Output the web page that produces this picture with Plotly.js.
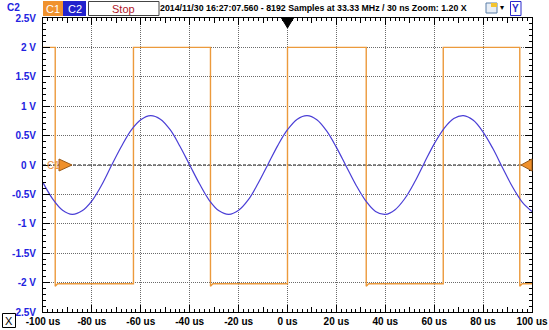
<!DOCTYPE html>
<html><head><meta charset="utf-8">
<script src="https://cdn.plot.ly/plotly-3.0.1.min.js"></script>
<style>html,body{margin:0;padding:0;background:#fff;}#g{width:549px;height:330px;}</style>
</head><body><div id="g"></div>
<script>
// Time axis (us) and values
const sineT = [-100,-96,-92,-88,-84,-80,-76,-72,-68,-64,-60,-56,-52,-48,-44,-40,-36,-32,-28,-24,-20,-16,-12,-8,-4,0,4,8,12,16,20,24,28,32,36,40,44,48,52,56,60,64,68,72,76,80,84,88,92,96,100];
const sineV = [-0.30,-0.58,-0.77,-0.84,-0.78,-0.61,-0.34,-0.01,0.31,0.59,0.77,0.84,0.78,0.60,0.32,0.00,-0.32,-0.60,-0.78,-0.84,-0.77,-0.59,-0.31,0.01,0.33,0.60,0.78,0.84,0.77,0.58,0.30,-0.02,-0.34,-0.61,-0.79,-0.84,-0.76,-0.57,-0.29,0.04,0.36,0.62,0.79,0.84,0.76,0.56,0.28,-0.05,-0.37,-0.63,-0.79];
const sqT = [-100,-95,-95,-94,-63,-63,-31.5,-31.5,-30.5,0,0,32.2,32.2,33.2,63.7,63.7,95,95,96,100];
const sqV = [2.0,2.0,-2.06,-2.02,-2.02,2.0,2.0,-2.06,-2.02,-2.02,2.0,2.0,-2.06,-2.02,-2.02,2.0,2.0,-2.06,-2.02,-2.02];
const xTickVals = [-100,-80,-60,-40,-20,0,20,40,60,80,100];
const xTickText = ['-100 us','-80 us','-60 us','-40 us','-20 us','0 us','20 us','40 us','60 us','80 us','100 us'];
const xMidVals = [-90,-70,-50,-30,-10,10,30,50,70,90];
const yTickVals = [-2.5,-2,-1.5,-1,-0.5,0,0.5,1,1.5,2,2.5];
const yTickText = ['-2.5V','-2 V','-1.5V','-1 V','-0.5V','0 V','0.5V','1 V','1.5V','2 V','2.5V'];
const headerText = '2014/11/30 16:27:07.560 - 8192 Samples at 33.33 MHz / 30 ns Zoom: 1.20 X';

const L=43, R=532, T=18, B=312;
const px = v => (v-L)/(R-L);
const py = v => (B-v)/(B-T);
const F = 'Liberation Sans, Arial, sans-serif';

const data = [
  {x: sqT, y: sqV, type:'scatter', mode:'lines', line:{color:'#ec9a3c', width:1.4}, hoverinfo:'skip'},
  {x: sineT, y: sineV, type:'scatter', mode:'lines', line:{color:'#4a3ed6', width:1.2, shape:'spline'}, hoverinfo:'skip'},
  {x: [], y: [], xaxis:'x2', type:'scatter', mode:'lines', hoverinfo:'skip'}
];

const layout = {
  width:549, height:330,
  margin:{l:L, r:549-R, t:T, b:330-B, pad:0},
  paper_bgcolor:'#ffffff', plot_bgcolor:'#ffffff',
  showlegend:false,
  xaxis:{range:[-100,100], tickvals:xTickVals, ticktext:xTickText, ticks:'inside', ticklen:7, tickcolor:'#000', tickwidth:1,
    showline:true, linecolor:'#000', linewidth:1, mirror:'ticks', showgrid:true, gridcolor:'#6a6a6a', griddash:'1px,1px', gridwidth:1,
    zeroline:false, tickfont:{family:F, size:10, color:'#000', weight:'bold'},
    minor:{dtick:2, tick0:0, ticks:'inside', ticklen:3, tickcolor:'#000', showgrid:false}, fixedrange:true},
  xaxis2:{overlaying:'x', range:[-100,100], tickvals:xMidVals, ticks:'inside', ticklen:5, tickcolor:'#000', showticklabels:false,
    showgrid:false, zeroline:false, showline:false, mirror:'ticks', side:'bottom', fixedrange:true},
  yaxis:{range:[-2.5,2.5], tickvals:yTickVals, ticktext:yTickText, ticks:'inside', ticklen:7, tickcolor:'#000',
    showline:true, linecolor:'#000', linewidth:1, mirror:'ticks', showgrid:true, gridcolor:'#6a6a6a', griddash:'1px,1px', gridwidth:1,
    zeroline:false, tickfont:{family:F, size:10, color:'#2222e0', weight:'bold'}, ticklabelstandoff:4,
    minor:{dtick:0.1, tick0:0, ticks:'inside', ticklen:3, tickcolor:'#000', showgrid:false}, fixedrange:true},
  shapes:[
    {type:'line', xref:'paper', yref:'y', x0:0, x1:1, y0:0, y1:0, line:{color:'#111', width:1, dash:'3px,2px'}, layer:'below'},
    // header boxes
    {type:'rect', xref:'paper', yref:'paper', x0:px(43), x1:px(63), y0:py(16), y1:py(1), fillcolor:'#f0922e', line:{width:0}},
    {type:'rect', xref:'paper', yref:'paper', x0:px(63), x1:px(86), y0:py(16), y1:py(1), fillcolor:'#2222cc', line:{width:0}},
    {type:'rect', xref:'paper', yref:'paper', x0:px(88.5), x1:px(159), y0:py(15.5), y1:py(1.5), fillcolor:'#ffffff', line:{color:'#444', width:1}},
    {type:'rect', xref:'paper', yref:'paper', x0:px(510.5), x1:px(521), y0:py(15.5), y1:py(1.5), fillcolor:'#ffffff', line:{color:'#2a2acc', width:1}},
    {type:'rect', xref:'paper', yref:'paper', x0:px(486), x1:px(497), y0:py(13), y1:py(3), fillcolor:'#e8eef6', line:{color:'#5b7fa8', width:1}},
    {type:'rect', xref:'paper', yref:'paper', x0:px(491), x1:px(497), y0:py(7), y1:py(3), fillcolor:'#f4c430', line:{width:0}},
    {type:'rect', xref:'paper', yref:'paper', x0:px(2.5), x1:px(15.5), y0:py(327.5), y1:py(313.5), fillcolor:'#ffffff', line:{color:'#000', width:1}},
    // trigger marker
    {type:'path', xref:'x', yref:'paper', xsizemode:'pixel', ysizemode:'pixel', xanchor:0, yanchor:1,
      path:'M-6,0 L6,0 L0,-10 Z', fillcolor:'#000', line:{color:'#000', width:1}},
    // channel level markers
    {type:'path', xref:'paper', yref:'y', xsizemode:'pixel', ysizemode:'pixel', xanchor:px(59), yanchor:0,
      path:'M0,-6 L0,6 L13,0 Z', fillcolor:'#f0902a', line:{color:'#9a5a18', width:1}},
    {type:'path', xref:'paper', yref:'y', xsizemode:'pixel', ysizemode:'pixel', xanchor:px(532), yanchor:0,
      path:'M0,-6 L0,6 L-11,0 Z', fillcolor:'#f0902a', line:{color:'#9a5a18', width:1}}
  ],
  annotations:[
    {xref:'paper', yref:'paper', x:px(5), y:py(8), xanchor:'left', yanchor:'middle', text:'C2', showarrow:false, font:{family:F, size:10, color:'#2222e0', weight:'bold'}},
    {xref:'paper', yref:'paper', x:px(53), y:py(8.5), xanchor:'center', yanchor:'middle', text:'C1', showarrow:false, font:{family:F, size:11, color:'#fff'}},
    {xref:'paper', yref:'paper', x:px(74.5), y:py(8.5), xanchor:'center', yanchor:'middle', text:'C2', showarrow:false, font:{family:F, size:11, color:'#fff'}},
    {xref:'paper', yref:'paper', x:px(123.5), y:py(8.5), xanchor:'center', yanchor:'middle', text:'Stop', showarrow:false, font:{family:F, size:11, color:'#b0182c'}},
    {xref:'paper', yref:'paper', x:px(158), y:py(8), xanchor:'left', yanchor:'middle', text:headerText, showarrow:false, font:{family:F, size:8.8, color:'#000', weight:'bold'}},
    {xref:'paper', yref:'paper', x:px(502), y:py(8), xanchor:'center', yanchor:'middle', text:'▾', showarrow:false, font:{family:'DejaVu Sans', size:8, color:'#000'}},
    {xref:'paper', yref:'paper', x:px(515.75), y:py(8.5), xanchor:'center', yanchor:'middle', text:'Y', showarrow:false, font:{family:F, size:10, color:'#2a2acc', weight:'bold'}},
    {xref:'paper', yref:'paper', x:px(9), y:py(320.5), xanchor:'center', yanchor:'middle', text:'X', showarrow:false, font:{family:F, size:11, color:'#000'}},
    {xref:'paper', yref:'y', x:px(45), y:0, xanchor:'left', yanchor:'middle', text:'C1', showarrow:false, font:{family:F, size:10, color:'#e8913c'}}
  ]
};
Plotly.newPlot('g', data, layout, {staticPlot:true, displayModeBar:false});
</script></body></html>
